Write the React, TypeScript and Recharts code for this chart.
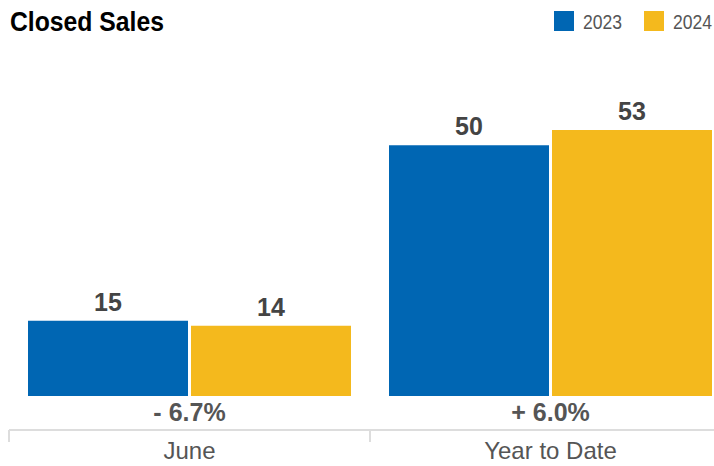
import { BarChart, Bar, XAxis, YAxis, LabelList } from 'recharts'

const CATEGORIES = ['June', 'Year to Date']
const SALES_2023 = [15, 50]
const SALES_2024 = [14, 53]
const CHANGE_LABELS = ['- 6.7%', '+ 6.0%']
const YEARS = ['2023', '2024']
const COLORS = ['#0066b3', '#f4b91d']

const data = CATEGORIES.map((name, i) => ({
  name,
  y2023: SALES_2023[i],
  y2024: SALES_2024[i],
}))

const FONT = '"Liberation Sans", Arial, sans-serif'

function CategoryTick(props: any) {
  const { x, y, payload, width, visibleTicksCount } = props
  const half = payload.offset || width / (2 * (visibleTicksCount || 2))
  const lineY = y + 34
  return (
    <g>
      <text x={x} y={y + 25} textAnchor="middle" fontFamily={FONT} fontWeight="bold" fontSize={25} fill="#555">
        {CHANGE_LABELS[payload.index]}
      </text>
      <line x1={x - half} x2={x + half} y1={lineY} y2={lineY} stroke="#dddddd" strokeWidth={2} />
      <line x1={x - half} x2={x - half} y1={lineY} y2={lineY + 12} stroke="#dddddd" strokeWidth={2} />
      <line x1={x + half} x2={x + half} y1={lineY} y2={lineY + 12} stroke="#dddddd" strokeWidth={2} />
      <text x={x} y={y + 63} textAnchor="middle" fontFamily={FONT} fontSize={24} fill="#555">
        {payload.value}
      </text>
    </g>
  )
}

export default function App() {
  return (
    <div style={{ position: 'absolute', left: 0, top: 0, width: 714, height: 466, overflow: 'hidden', background: '#fff' }}>
      <svg width={714} height={50} style={{ position: 'absolute', left: 0, top: 0 }}>
        <text
          x={10}
          y={31}
          fontFamily={FONT}
          fontWeight="bold"
          fontSize={28}
          fill="#000"
          textLength={154}
          lengthAdjust="spacingAndGlyphs"
        >
          Closed Sales
        </text>
        {YEARS.map((year, i) => (
          <g key={year}>
            <rect x={554 + i * 90} y={11} width={20} height={20} fill={COLORS[i]} />
            <text
              x={583 + i * 90}
              y={29}
              fontFamily={FONT}
              fontSize={21}
              fill="#555"
              textLength={39}
              lengthAdjust="spacingAndGlyphs"
            >
              {year}
            </text>
          </g>
        ))}
      </svg>
      <BarChart
        width={731}
        height={466}
        data={data}
        margin={{ top: 95, right: 0, bottom: 0, left: 9 }}
        barGap={3}
        barSize={160}
      >
        <XAxis
          dataKey="name"
          axisLine={false}
          tickLine={false}
          tickSize={0}
          tickMargin={0}
          height={70}
          interval={0}
          tick={<CategoryTick />}
        />
        <YAxis hide domain={[0, 60]} />
        <Bar dataKey="y2023" name={YEARS[0]} fill={COLORS[0]} isAnimationActive={false}>
          <LabelList dataKey="y2023" position="top" offset={10} fontFamily={FONT} fontWeight="bold" fontSize={25} fill="#444" />
        </Bar>
        <Bar dataKey="y2024" name={YEARS[1]} fill={COLORS[1]} isAnimationActive={false}>
          <LabelList dataKey="y2024" position="top" offset={10} fontFamily={FONT} fontWeight="bold" fontSize={25} fill="#444" />
        </Bar>
      </BarChart>
    </div>
  )
}
